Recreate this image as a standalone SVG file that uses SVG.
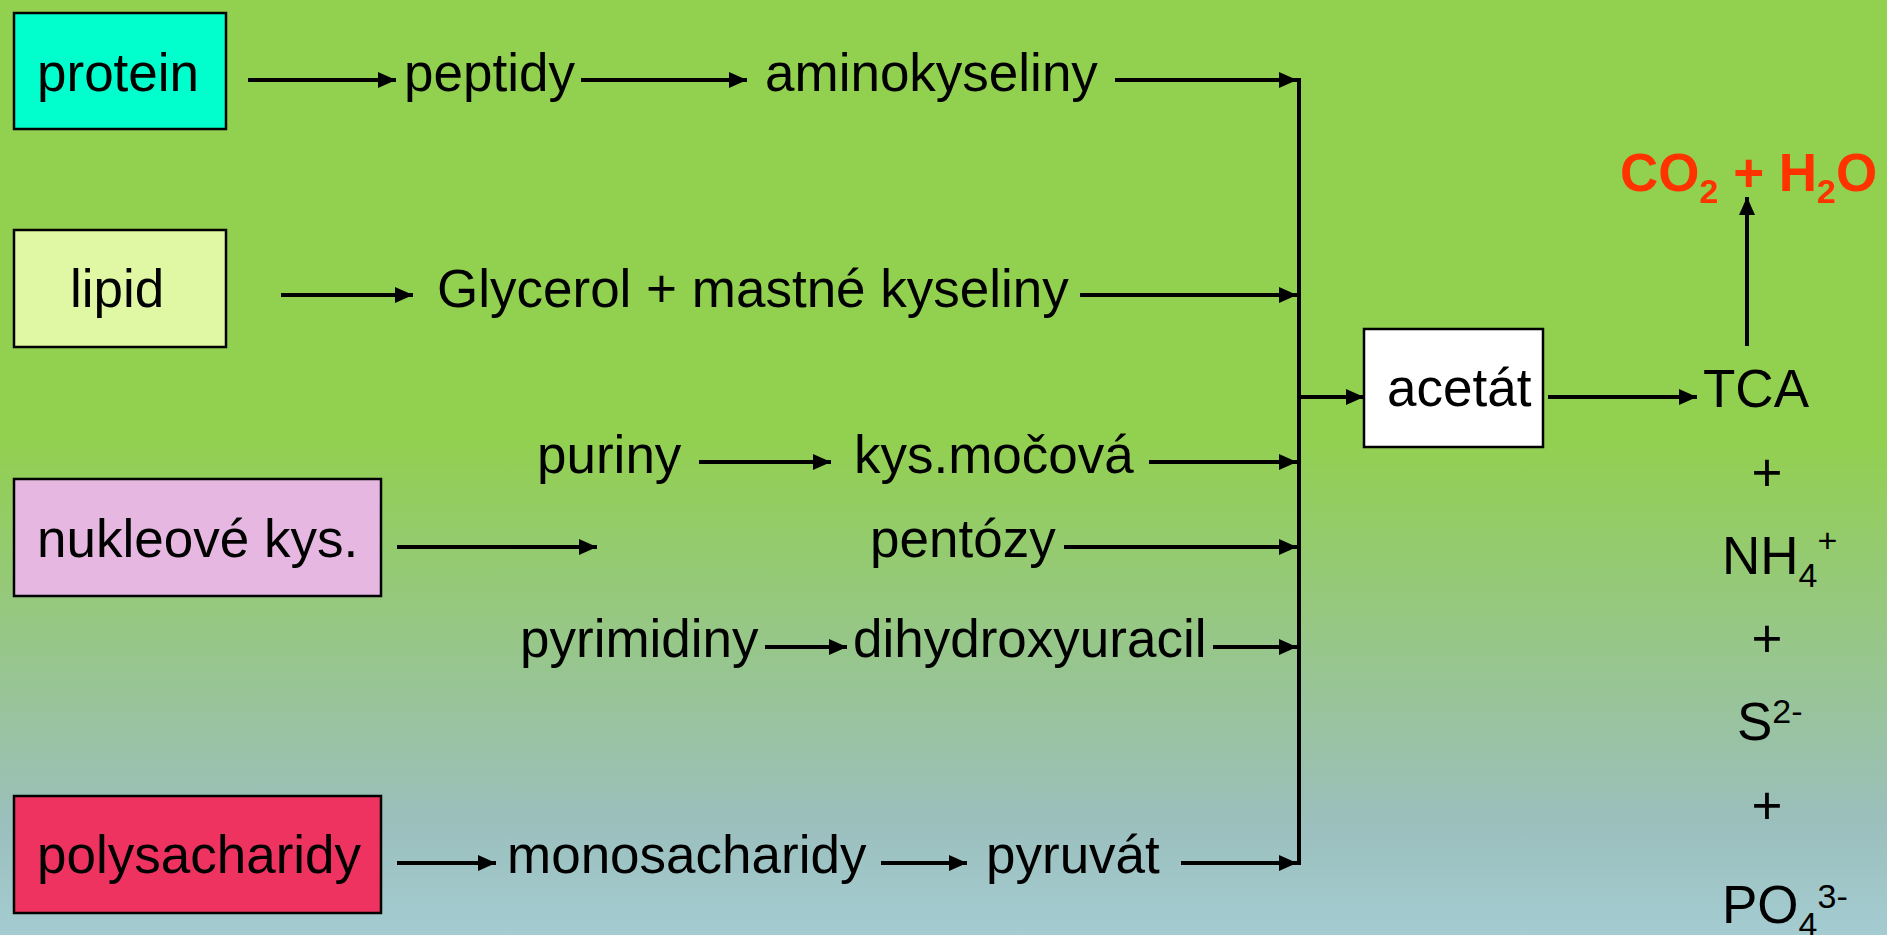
<svg xmlns="http://www.w3.org/2000/svg" width="1887" height="935" viewBox="0 0 1887 935">
<defs>
<linearGradient id="bg" x1="0" y1="0" x2="0" y2="1">
<stop offset="0" stop-color="#92D050"/>
<stop offset="0.47" stop-color="#92D050"/>
<stop offset="0.7" stop-color="#97C68C"/>
<stop offset="0.88" stop-color="#9BBFBD"/>
<stop offset="1" stop-color="#A4CCD1"/>
</linearGradient>
<marker id="ah" markerUnits="userSpaceOnUse" markerWidth="18" markerHeight="16" viewBox="0 0 18 16" refX="18" refY="8" orient="auto">
<path d="M0,0 L18,8 L0,16 z" fill="#000"/>
</marker>
<style>
.t{font-family:"Liberation Sans",Arial,sans-serif;font-size:53px;fill:#000}
.red{font-family:"Liberation Sans",Arial,sans-serif;font-size:53px;font-weight:bold;fill:#FF3300}
.box{stroke:#000;stroke-width:2.5}
.c{fill:none;stroke:#000;stroke-width:4}
.a{fill:none;stroke:#000;stroke-width:4;marker-end:url(#ah)}
</style>
</defs>
<rect width="1887" height="935" fill="url(#bg)"/>

<g id="protein"><rect class="box" x="14" y="13" width="212" height="116" fill="#00FFCC"/><text class="t" x="37" y="91">protein</text></g>
<g id="lipid"><rect class="box" x="14" y="230" width="212" height="117" fill="#E0F8A4"/><text class="t" x="70" y="307">lipid</text></g>
<g id="nukleove"><rect class="box" x="14" y="479" width="367" height="117" fill="#E6B8E1"/><text class="t" x="37" y="557">nukleové kys.</text></g>
<g id="polysacharidy"><rect class="box" x="14" y="796" width="367" height="117" fill="#EF3360"/><text class="t" x="37" y="873">polysacharidy</text></g>
<g id="acetat"><rect class="box" x="1364" y="329" width="179" height="118" fill="#FFFFFF"/><text class="t" x="1387" y="406">acetát</text></g>

<g id="peptidy"><text class="t" x="404" y="91">peptidy</text></g>
<g id="aminokyseliny"><text class="t" x="765" y="91">aminokyseliny</text></g>
<g id="glycerol"><text class="t" x="437" y="307">Glycerol + mastné kyseliny</text></g>
<g id="puriny"><text class="t" x="537" y="473">puriny</text></g>
<g id="kysmocova"><text class="t" x="854" y="473">kys.močová</text></g>
<g id="pentozy"><text class="t" x="870" y="557">pentózy</text></g>
<g id="pyrimidiny"><text class="t" x="520" y="657">pyrimidiny</text></g>
<g id="dihydroxyuracil"><text class="t" x="853" y="657">dihydroxyuracil</text></g>
<g id="monosacharidy"><text class="t" x="507" y="873">monosacharidy</text></g>
<g id="pyruvat"><text class="t" x="986" y="873">pyruvát</text></g>
<g id="tca"><text class="t" x="1703" y="407">TCA</text></g>
<g id="co2h2o"><text class="red" x="1620" y="191">CO<tspan font-size="34" dy="12">2</tspan><tspan dy="-12"> + H</tspan><tspan font-size="34" dy="12">2</tspan><tspan dy="-12">O</tspan></text></g>
<g id="products">
<text class="t" x="1767" y="491" text-anchor="middle">+</text>
<text class="t" x="1722" y="574">NH<tspan font-size="34" dy="13">4</tspan><tspan font-size="34" dy="-35">+</tspan></text>
<text class="t" x="1767" y="657" text-anchor="middle">+</text>
<text class="t" x="1737" y="740">S<tspan font-size="34" dy="-17">2-</tspan></text>
<text class="t" x="1767" y="824" text-anchor="middle">+</text>
<text class="t" x="1722" y="923">PO<tspan font-size="34" dy="13">4</tspan><tspan font-size="34" dy="-28">3-</tspan></text>
</g>

<g id="connectors">
<line class="a" x1="248" y1="80" x2="396" y2="80"/>
<line class="a" x1="581" y1="80" x2="747" y2="80"/>
<line class="a" x1="1115" y1="80" x2="1297" y2="80"/>
<line class="a" x1="281" y1="295" x2="413" y2="295"/>
<line class="a" x1="1080" y1="295" x2="1297" y2="295"/>
<line class="a" x1="699" y1="462" x2="831" y2="462"/>
<line class="a" x1="1149" y1="462" x2="1297" y2="462"/>
<line class="a" x1="397" y1="547" x2="597" y2="547"/>
<line class="a" x1="1064" y1="547" x2="1297" y2="547"/>
<line class="a" x1="765" y1="647" x2="847" y2="647"/>
<line class="a" x1="1213" y1="647" x2="1297" y2="647"/>
<line class="a" x1="397" y1="863" x2="496" y2="863"/>
<line class="a" x1="881" y1="863" x2="967" y2="863"/>
<line class="a" x1="1181" y1="863" x2="1297" y2="863"/>
<line class="c" x1="1299" y1="78" x2="1299" y2="865"/>
<line class="a" x1="1299" y1="397" x2="1364" y2="397"/>
<line class="a" x1="1548" y1="397" x2="1697" y2="397"/>
<line class="a" x1="1747" y1="346" x2="1747" y2="197"/>
</g>
</svg>
